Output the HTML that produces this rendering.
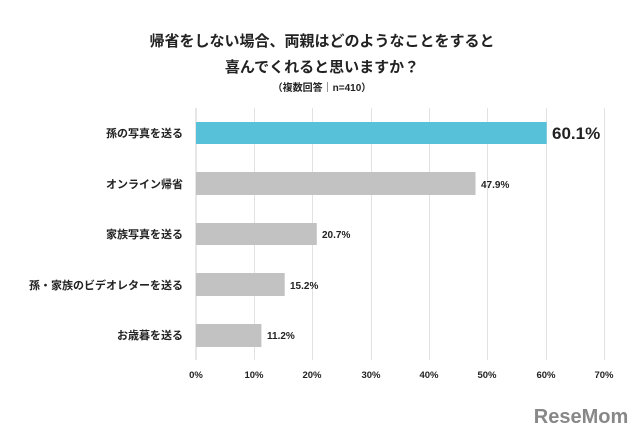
<!DOCTYPE html>
<html><head><meta charset="utf-8"><style>
body{margin:0;background:#fff;}
svg text{font-family:"Liberation Sans","Noto Sans CJK JP",sans-serif;font-weight:bold;fill:#222;}
</style></head><body>
<svg width="640" height="436" viewBox="0 0 640 436" xmlns="http://www.w3.org/2000/svg">
<rect width="640" height="436" fill="#fff"/>
<text x="322" y="46" font-size="15" text-anchor="middle">帰省をしない場合、両親はどのようなことをすると</text>
<text x="322" y="72" font-size="15" text-anchor="middle">喜んでくれると思いますか？</text>
<text x="322" y="91" font-size="10" text-anchor="middle">（複数回答｜n=410）</text>
<g stroke="#e2e2e2" stroke-width="1">
<line x1="254.5" y1="108" x2="254.5" y2="360"/>
<line x1="312.5" y1="108" x2="312.5" y2="360"/>
<line x1="371.5" y1="108" x2="371.5" y2="360"/>
<line x1="429.5" y1="108" x2="429.5" y2="360"/>
<line x1="487.5" y1="108" x2="487.5" y2="360"/>
<line x1="546.5" y1="108" x2="546.5" y2="360"/>
<line x1="604.5" y1="108" x2="604.5" y2="360"/>
</g>
<line x1="196" y1="108" x2="196" y2="360" stroke="#ccc"/>
<rect x="196" y="122" width="350.7" height="22" fill="#56c1d9"/>
<rect x="196" y="172" width="279.5" height="23" fill="#c2c2c2"/>
<rect x="196" y="223" width="120.8" height="22" fill="#c2c2c2"/>
<rect x="196" y="273" width="88.7" height="23" fill="#c2c2c2"/>
<rect x="196" y="324" width="65.4" height="23" fill="#c2c2c2"/>
<text x="552" y="139" font-size="17" font-weight="normal">60.1%</text>
<text x="481" y="188" font-size="10">47.9%</text>
<text x="322" y="238" font-size="10">20.7%</text>
<text x="290" y="289" font-size="10">15.2%</text>
<text x="267" y="339" font-size="10">11.2%</text>
<g font-size="11" text-anchor="end">
<text x="183" y="137">孫の写真を送る</text>
<text x="183" y="188">オンライン帰省</text>
<text x="183" y="238">家族写真を送る</text>
<text x="183" y="289">孫・家族のビデオレターを送る</text>
<text x="183" y="339">お歳暮を送る</text>
</g>
<g font-size="9.5" text-anchor="middle">
<text x="196" y="378">0%</text><text x="254" y="378">10%</text><text x="312" y="378">20%</text>
<text x="371" y="378">30%</text><text x="429" y="378">40%</text><text x="487" y="378">50%</text>
<text x="546" y="378">60%</text><text x="604" y="378">70%</text>
</g>
<text x="581" y="423" font-size="20" text-anchor="middle" style="fill:#888">ReseMom</text>
</svg>
</body></html>
